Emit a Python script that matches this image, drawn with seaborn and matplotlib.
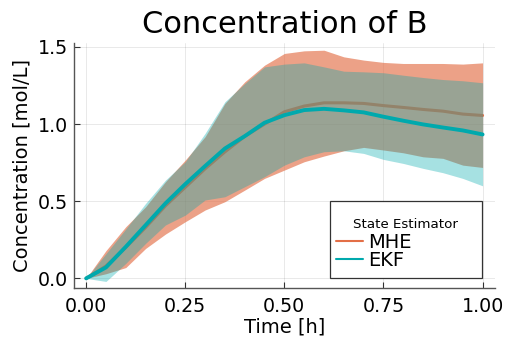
import matplotlib
matplotlib.use("Agg")
import matplotlib.pyplot as plt
from matplotlib.patches import Rectangle
import numpy as np
import pandas as pd
import seaborn as sns

# time grid (h)
time = [0.00, 0.05, 0.10, 0.15, 0.20, 0.25, 0.30, 0.35, 0.40, 0.45, 0.50,
        0.55, 0.60, 0.65, 0.70, 0.75, 0.80, 0.85, 0.90, 0.95, 1.00]

# MHE estimate and band
mhe_mean = [0.00, 0.08, 0.20, 0.33, 0.47, 0.59, 0.71, 0.82, 0.92, 1.00, 1.08,
            1.117, 1.138, 1.138, 1.134, 1.12, 1.108, 1.095, 1.084, 1.065, 1.056]
mhe_low = [0.00, 0.03, 0.07, 0.194, 0.287, 0.367, 0.443, 0.497, 0.572, 0.648, 0.702,
           0.756, 0.793, 0.827, 0.849, 0.832, 0.814, 0.788, 0.778, 0.734, 0.719]
mhe_high = [0.00, 0.18, 0.335, 0.464, 0.626, 0.767, 0.918, 1.134, 1.274, 1.382, 1.458,
            1.475, 1.479, 1.436, 1.415, 1.40, 1.393, 1.393, 1.393, 1.389, 1.397]

# EKF estimate and band
ekf_mean = [0.00, 0.071, 0.205, 0.345, 0.486, 0.611, 0.728, 0.842, 0.922, 1.009, 1.058,
            1.091, 1.099, 1.089, 1.076, 1.048, 1.022, 0.998, 0.978, 0.959, 0.933]
ekf_low = [0.00, -0.02, 0.097, 0.227, 0.346, 0.41, 0.508, 0.529, 0.594, 0.659, 0.734,
           0.788, 0.821, 0.827, 0.81, 0.771, 0.745, 0.713, 0.685, 0.648, 0.60]
ekf_high = [0.00, 0.16, 0.32, 0.486, 0.637, 0.756, 0.94, 1.145, 1.263, 1.371, 1.389,
            1.397, 1.371, 1.343, 1.339, 1.333, 1.317, 1.302, 1.289, 1.281, 1.268]

df = pd.DataFrame({
    "time": time * 2,
    "mean": mhe_mean + ekf_mean,
    "low": mhe_low + ekf_low,
    "high": mhe_high + ekf_high,
    "State Estimator": ["MHE"] * len(time) + ["EKF"] * len(time),
})

colors = {"MHE": "#E36F47", "EKF": "#00A9AD"}
band_alpha = {"MHE": 0.65, "EKF": 0.35}
line_width = {"MHE": 2.2, "EKF": 2.8}

sns.set_style("white")
plt.rcParams["font.family"] = ["DejaVu Sans"]
plt.rcParams["text.color"] = "black"
plt.rcParams["axes.labelcolor"] = "black"
plt.rcParams["xtick.color"] = "black"
plt.rcParams["ytick.color"] = "black"

fig, ax = plt.subplots(figsize=(5.06, 3.45), dpi=100)
fig.subplots_adjust(left=0.146, right=0.978, bottom=0.165, top=0.875)

# band, then line, per series so the later band covers the earlier line
z = 1
for name in ["MHE", "EKF"]:
    sub = df[df["State Estimator"] == name]
    ax.fill_between(sub["time"], sub["low"], sub["high"], color=colors[name],
                    alpha=band_alpha[name], linewidth=0, zorder=z)
    sns.lineplot(data=sub, x="time", y="mean", color=colors[name],
                 linewidth=line_width[name], ax=ax, label=name, zorder=z + 1)
    z += 2

ax.set_xlim(-0.031, 1.031)
ax.set_ylim(-0.063, 1.525)
ax.set_xticks([0, 0.25, 0.5, 0.75, 1.0])
ax.set_xticklabels(["0.00", "0.25", "0.50", "0.75", "1.00"])
ax.set_yticks([0, 0.5, 1.0, 1.5])
ax.set_yticklabels(["0.0", "0.5", "1.0", "1.5"])
ax.grid(True, color="#000000", alpha=0.1, linewidth=0.6)
ax.set_axisbelow(True)

for side in ["top", "right"]:
    ax.spines[side].set_visible(False)
for side in ["left", "bottom"]:
    ax.spines[side].set_color("#555555")
    ax.spines[side].set_linewidth(1.0)
ax.tick_params(direction="in", length=4, width=0.8, color="#333333",
               labelsize=13.7, left=True, bottom=True)
ax.tick_params(axis="x", pad=6.2)
ax.tick_params(axis="y", pad=4.5)

ax.set_title("Concentration of B", fontsize=22, pad=7)
ax.set_xlabel("Time [h]", fontsize=14, labelpad=1)
ax.set_ylabel("Concentration [mol/L]", fontsize=14, labelpad=4.5)

# legend box drawn separately so the padding can match the reference
ax.add_patch(Rectangle((0.608, 0.041), 0.361, 0.314, transform=ax.transAxes,
                       facecolor="white", edgecolor="#333333", linewidth=0.9,
                       zorder=9))
handles, labels = ax.get_legend_handles_labels()
leg = ax.legend(handles, labels, title="State Estimator", loc="upper left",
                bbox_to_anchor=(0.608, 0.309, 0.361, 0.0), mode="expand",
                fontsize=14, title_fontsize=9.6, frameon=False,
                handlelength=1.4, handletextpad=0.25, borderpad=0.3,
                labelspacing=-0.08, borderaxespad=0.0)
leg._legend_box.sep = 1.5
leg.set_zorder(10)
for line in leg.get_lines():
    line.set_linewidth(1.5)

fig.savefig("out.png", dpi=100)
